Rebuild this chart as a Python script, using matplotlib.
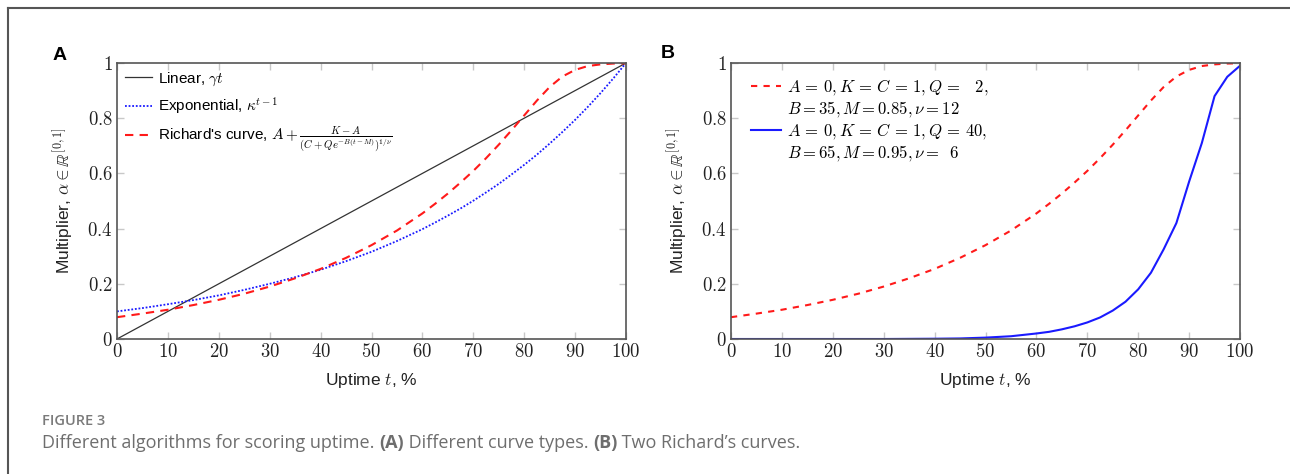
import matplotlib
matplotlib.use('Agg')
import matplotlib.pyplot as plt
from matplotlib.lines import Line2D
from matplotlib.ticker import FuncFormatter, MultipleLocator
import numpy as np

plt.rcParams['mathtext.fontset'] = 'cm'
plt.rcParams['font.family'] = ['Liberation Sans', 'DejaVu Sans']

# uptime grid (%)
t = [0, 5, 10, 15, 20, 25, 30, 35, 40, 45, 50, 55, 60, 62.5, 65, 67.5, 70,
     72.5, 75, 77.5, 80, 82.5, 85, 87.5, 90, 92.5, 95, 97.5, 100]

linear_t = [0, 100]
linear_y = [0, 1]

expo_y = [0.100, 0.112, 0.126, 0.141, 0.158, 0.178, 0.200, 0.224, 0.251, 0.282,
          0.316, 0.355, 0.398, 0.422, 0.447, 0.473, 0.501, 0.531, 0.562, 0.596,
          0.631, 0.668, 0.708, 0.750, 0.794, 0.841, 0.891, 0.944, 1.000]

richard1_y = [0.079, 0.092, 0.106, 0.123, 0.142, 0.164, 0.190, 0.220, 0.254, 0.294,
              0.340, 0.393, 0.455, 0.490, 0.527, 0.567, 0.609, 0.655, 0.704, 0.756,
              0.810, 0.864, 0.913, 0.951, 0.975, 0.989, 0.995, 0.998, 0.999]

richard2_y = [0, 0, 0, 0, 0, 0, 0, 0.0005, 0.001, 0.002,
              0.005, 0.010, 0.020, 0.026, 0.035, 0.046, 0.060, 0.078, 0.103, 0.135,
              0.180, 0.240, 0.325, 0.420, 0.570, 0.710, 0.880, 0.950, 0.990]

lab_lin = r'Linear, $\gamma t$'
lab_exp = r'Exponential, $\kappa^{t-1}$'
lab_rich = r"Richard's curve, $A+\frac{K-A}{(C+Qe^{-B(t-M)})^{1/\nu}}$"
lab_b1 = [r'$A\,=\,0,K\,=\,C\,=\,1,Q\,=\;\;\;2,$', r'$B=35,M=0.85,\nu=12$']
lab_b2 = [r'$A\,=\,0,K\,=\,C\,=\,1,Q\,=\,40,$', r'$B=65,M=0.95,\nu=\;\;6$']

RED = '#ff1a1a'
BLUE = '#1a1aff'

fig = plt.figure(figsize=(12.9, 4.74), dpi=100)
axA = fig.add_axes([117/1290, 135/474, 509/1290, 276/474])
axB = fig.add_axes([731/1290, 135/474, 509/1290, 276/474])

def style(ax):
    ax.set_xlim(0, 100)
    ax.set_ylim(0, 1)
    ax.xaxis.set_major_locator(MultipleLocator(10))
    ax.yaxis.set_major_locator(MultipleLocator(0.2))
    ax.xaxis.set_major_formatter(FuncFormatter(lambda v, p: f'${v:g}$'))
    ax.yaxis.set_major_formatter(FuncFormatter(lambda v, p: f'${v:g}$'))
    ax.tick_params(direction='in', length=5, width=1, color='#c8c8c8',
                   top=True, right=True, labelsize=13.5, pad=3, labelcolor='#222')
    for s in ax.spines.values():
        s.set_color('#555555')
        s.set_linewidth(1.2)
    ax.set_xlabel(r'Uptime $t$, %', fontsize=12.5, labelpad=7, color='#222')
    ax.set_ylabel(r'Multiplier, $\alpha\in\mathbb{R}^{[0,1]}$', fontsize=12.5,
                  labelpad=8, color='#222')

style(axA)
style(axB)

axA.plot(linear_t, linear_y, color='#333333', lw=0.9, label=lab_lin)
axA.plot(t, expo_y, color=BLUE, lw=1.3, ls=(0, (1, 1)), label=lab_exp)
axA.plot(t, richard1_y, color=RED, lw=1.5, ls=(0, (4, 3)), label=lab_rich)
axA.legend(loc='upper left', frameon=False, fontsize=11, handlelength=1.8,
           handletextpad=0.4, labelspacing=0.5, borderaxespad=0.1,
           bbox_to_anchor=(0.0, 1.0))

axB.plot(t, richard1_y, color=RED, lw=1.5, ls=(0, (3, 3)))
axB.plot(t, richard2_y, color=BLUE, lw=1.5)
hB = [Line2D([], [], color=RED, lw=1.5, ls=(0, (3, 3))),
      Line2D([], [], lw=0),
      Line2D([], [], color=BLUE, lw=1.5),
      Line2D([], [], lw=0)]
axB.legend(hB, [lab_b1[0], lab_b1[1], lab_b2[0], lab_b2[1]], loc='upper left',
           frameon=False, fontsize=12, handlelength=1.8, handletextpad=0.35,
           labelspacing=0.12, borderaxespad=0.2, bbox_to_anchor=(0.02, 0.985))

fig.text(60/1290, 1 - 55/474, 'A', fontsize=14, fontweight='bold',
         ha='center', va='center')
fig.text(668/1290, 1 - 53/474, 'B', fontsize=14, fontweight='bold',
         ha='center', va='center')

# outer frame
fig.add_artist(Line2D([8/1290, 1], [1 - 8/474, 1 - 8/474], color='#555555', lw=1.5,
                      transform=fig.transFigure))
fig.add_artist(Line2D([8/1290, 8/1290], [0, 1 - 8/474], color='#555555', lw=1.5,
                      transform=fig.transFigure))

# caption
fig.text(42/1290, 1 - 421/474, 'FIGURE 3', fontsize=10.5, color='#7a7a7a',
         family='Open Sans', fontweight='semibold', va='center')
parts = [('Different algorithms for scoring uptime. ', 'normal'),
         ('(A)', 'bold'), (' Different curve types. ', 'normal'),
         ('(B)', 'bold'), (" Two Richard\u2019s curves.", 'normal')]
fig.canvas.draw()
r = fig.canvas.get_renderer()
x = 42
for txt, w in parts:
    tx = fig.text(x/1290, 1 - 443/474, txt, fontsize=13, color='#6e6e6e',
                  family='Open Sans', fontweight=w, va='center')
    x = tx.get_window_extent(r).x1

fig.savefig('out.png', dpi=100)
